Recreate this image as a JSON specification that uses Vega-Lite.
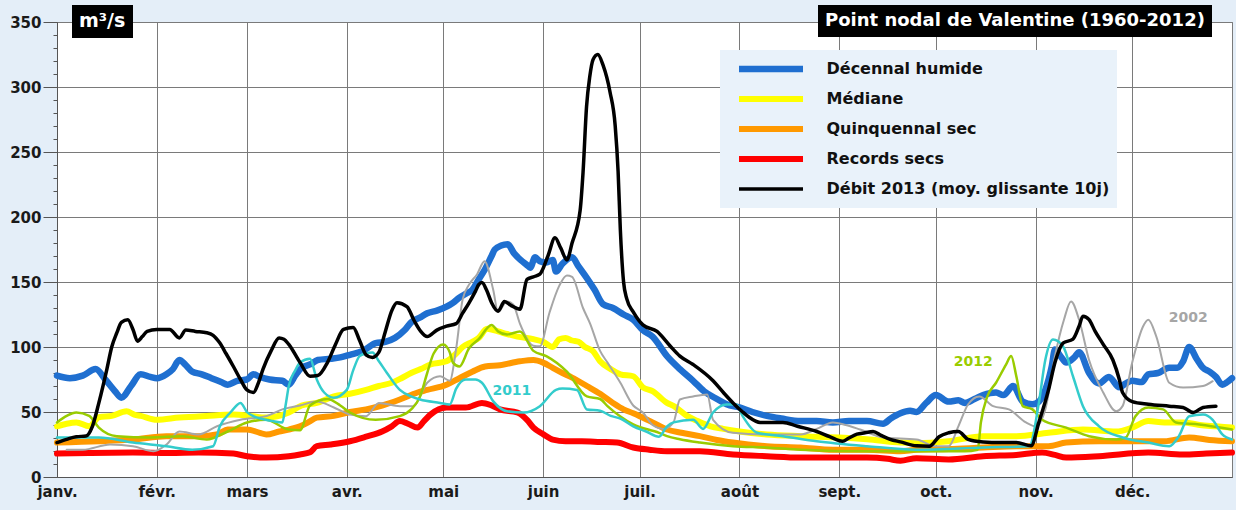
{
  "$schema": "https://vega.github.io/schema/vega-lite/v6.json",
  "width": 1175,
  "height": 455,
  "autosize": {"type": "none"},
  "padding": {"left": 57, "top": 22, "right": 4, "bottom": 33},
  "background": "#e4eef8",
  "config": {
    "view": {"fill": "white", "stroke": "#777777", "strokeWidth": 1},
    "font": "DejaVu Sans"
  },
  "datasets": {
    "flows": [
      {"series":"Records secs","day":0,"flow":18},{"series":"Records secs","day":10,"flow":18.5},{"series":"Records secs","day":23.6,"flow":18.8},{"series":"Records secs","day":35,"flow":18.5},{"series":"Records secs","day":44,"flow":18.8},{"series":"Records secs","day":54.8,"flow":18},{"series":"Records secs","day":59,"flow":16},{"series":"Records secs","day":65,"flow":15},{"series":"Records secs","day":72,"flow":16},{"series":"Records secs","day":75.5,"flow":17.3},{"series":"Records secs","day":78.6,"flow":19},{"series":"Records secs","day":80.7,"flow":23.7},{"series":"Records secs","day":85,"flow":25},{"series":"Records secs","day":91,"flow":27.5},{"series":"Records secs","day":96,"flow":31},{"series":"Records secs","day":101,"flow":35},{"series":"Records secs","day":104,"flow":39},{"series":"Records secs","day":106.5,"flow":43},{"series":"Records secs","day":109,"flow":41},{"series":"Records secs","day":112,"flow":38},{"series":"Records secs","day":114,"flow":43},{"series":"Records secs","day":116,"flow":48},{"series":"Records secs","day":121,"flow":53.5},{"series":"Records secs","day":127,"flow":53.5},{"series":"Records secs","day":132,"flow":57},{"series":"Records secs","day":135,"flow":55},{"series":"Records secs","day":137.6,"flow":52},{"series":"Records secs","day":143,"flow":49.6},{"series":"Records secs","day":146,"flow":44},{"series":"Records secs","day":148,"flow":38},{"series":"Records secs","day":151,"flow":33},{"series":"Records secs","day":154,"flow":28.8},{"series":"Records secs","day":158,"flow":27.5},{"series":"Records secs","day":163,"flow":27.5},{"series":"Records secs","day":168.7,"flow":27},{"series":"Records secs","day":174,"flow":26.5},{"series":"Records secs","day":179,"flow":22.7},{"series":"Records secs","day":184,"flow":21},{"series":"Records secs","day":189.5,"flow":19.8},{"series":"Records secs","day":199.7,"flow":19.8},{"series":"Records secs","day":210,"flow":17.3},{"series":"Records secs","day":220.5,"flow":16},{"series":"Records secs","day":231,"flow":15},{"series":"Records secs","day":251.6,"flow":15},{"series":"Records secs","day":258,"flow":14},{"series":"Records secs","day":262,"flow":12.5},{"series":"Records secs","day":267,"flow":14.5},{"series":"Records secs","day":277,"flow":13.5},{"series":"Records secs","day":287.7,"flow":16},{"series":"Records secs","day":298,"flow":17},{"series":"Records secs","day":306,"flow":18.8},{"series":"Records secs","day":310,"flow":17},{"series":"Records secs","day":313.5,"flow":15},{"series":"Records secs","day":323.7,"flow":16},{"series":"Records secs","day":339,"flow":18.8},{"series":"Records secs","day":349.8,"flow":17.3},{"series":"Records secs","day":357,"flow":18},{"series":"Records secs","day":365,"flow":18.8},
      {"series":"Quinquennal sec","day":0,"flow":26.5},{"series":"Quinquennal sec","day":13,"flow":27.5},{"series":"Quinquennal sec","day":23.6,"flow":28.8},{"series":"Quinquennal sec","day":34,"flow":31.4},{"series":"Quinquennal sec","day":44,"flow":31.4},{"series":"Quinquennal sec","day":50,"flow":33},{"series":"Quinquennal sec","day":53,"flow":36.5},{"series":"Quinquennal sec","day":59,"flow":36.5},{"series":"Quinquennal sec","day":63,"flow":34},{"series":"Quinquennal sec","day":65,"flow":32.7},{"series":"Quinquennal sec","day":69,"flow":35},{"series":"Quinquennal sec","day":72,"flow":36.5},{"series":"Quinquennal sec","day":75.5,"flow":39},{"series":"Quinquennal sec","day":78,"flow":42},{"series":"Quinquennal sec","day":80.7,"flow":45.7},{"series":"Quinquennal sec","day":86,"flow":47},{"series":"Quinquennal sec","day":91,"flow":50},{"series":"Quinquennal sec","day":96,"flow":52},{"series":"Quinquennal sec","day":101,"flow":55},{"series":"Quinquennal sec","day":106.5,"flow":59.6},{"series":"Quinquennal sec","day":112,"flow":65},{"series":"Quinquennal sec","day":115,"flow":67},{"series":"Quinquennal sec","day":121,"flow":71},{"series":"Quinquennal sec","day":125,"flow":76},{"series":"Quinquennal sec","day":129,"flow":81},{"series":"Quinquennal sec","day":133,"flow":85},{"series":"Quinquennal sec","day":137.6,"flow":86},{"series":"Quinquennal sec","day":143.8,"flow":89},{"series":"Quinquennal sec","day":148,"flow":90},{"series":"Quinquennal sec","day":151,"flow":88},{"series":"Quinquennal sec","day":154,"flow":84},{"series":"Quinquennal sec","day":157,"flow":80},{"series":"Quinquennal sec","day":160,"flow":76.5},{"series":"Quinquennal sec","day":164.6,"flow":70},{"series":"Quinquennal sec","day":168.7,"flow":64},{"series":"Quinquennal sec","day":172.7,"flow":57},{"series":"Quinquennal sec","day":176,"flow":52},{"series":"Quinquennal sec","day":179,"flow":49},{"series":"Quinquennal sec","day":181,"flow":46.8},{"series":"Quinquennal sec","day":185,"flow":42},{"series":"Quinquennal sec","day":189.5,"flow":36.5},{"series":"Quinquennal sec","day":194,"flow":34},{"series":"Quinquennal sec","day":199.7,"flow":31.4},{"series":"Quinquennal sec","day":205,"flow":28.5},{"series":"Quinquennal sec","day":210,"flow":26.5},{"series":"Quinquennal sec","day":220.5,"flow":23.7},{"series":"Quinquennal sec","day":231,"flow":22.7},{"series":"Quinquennal sec","day":241,"flow":21},{"series":"Quinquennal sec","day":251.6,"flow":21},{"series":"Quinquennal sec","day":262,"flow":19.8},{"series":"Quinquennal sec","day":267,"flow":21},{"series":"Quinquennal sec","day":277,"flow":21.5},{"series":"Quinquennal sec","day":287.7,"flow":22.7},{"series":"Quinquennal sec","day":298,"flow":23.7},{"series":"Quinquennal sec","day":308,"flow":23.7},{"series":"Quinquennal sec","day":313.5,"flow":26.5},{"series":"Quinquennal sec","day":323.7,"flow":27.5},{"series":"Quinquennal sec","day":334,"flow":27.5},{"series":"Quinquennal sec","day":344,"flow":27.5},{"series":"Quinquennal sec","day":351.7,"flow":30.4},{"series":"Quinquennal sec","day":358,"flow":28.5},{"series":"Quinquennal sec","day":365,"flow":27.5},
      {"series":"Médiane","day":0,"flow":39},{"series":"Médiane","day":3,"flow":41},{"series":"Médiane","day":6,"flow":42},{"series":"Médiane","day":10,"flow":39},{"series":"Médiane","day":13,"flow":46},{"series":"Médiane","day":17,"flow":47},{"series":"Médiane","day":21.6,"flow":50.6},{"series":"Médiane","day":24,"flow":48},{"series":"Médiane","day":26,"flow":47},{"series":"Médiane","day":31,"flow":44},{"series":"Médiane","day":38,"flow":45.7},{"series":"Médiane","day":46.5,"flow":47},{"series":"Médiane","day":54.8,"flow":48},{"series":"Médiane","day":60,"flow":47},{"series":"Médiane","day":65,"flow":45.7},{"series":"Médiane","day":72,"flow":49.6},{"series":"Médiane","day":76,"flow":55},{"series":"Médiane","day":80.7,"flow":57},{"series":"Médiane","day":86,"flow":62},{"series":"Médiane","day":91,"flow":64},{"series":"Médiane","day":96,"flow":67},{"series":"Médiane","day":100,"flow":70},{"series":"Médiane","day":104,"flow":72.5},{"series":"Médiane","day":107,"flow":76},{"series":"Médiane","day":110,"flow":80},{"series":"Médiane","day":113,"flow":83},{"series":"Médiane","day":116,"flow":86.5},{"series":"Médiane","day":121,"flow":89},{"series":"Médiane","day":124,"flow":95},{"series":"Médiane","day":126,"flow":100},{"series":"Médiane","day":129,"flow":104},{"series":"Médiane","day":131,"flow":107},{"series":"Médiane","day":133.6,"flow":114},{"series":"Médiane","day":137,"flow":112},{"series":"Médiane","day":139.8,"flow":110},{"series":"Médiane","day":143,"flow":108},{"series":"Médiane","day":148,"flow":106},{"series":"Médiane","day":151,"flow":104},{"series":"Médiane","day":154,"flow":100},{"series":"Médiane","day":156,"flow":106},{"series":"Médiane","day":158,"flow":107},{"series":"Médiane","day":160,"flow":105},{"series":"Médiane","day":162,"flow":104},{"series":"Médiane","day":164,"flow":100},{"series":"Médiane","day":166.5,"flow":96.8},{"series":"Médiane","day":168.7,"flow":89},{"series":"Médiane","day":172,"flow":83},{"series":"Médiane","day":175,"flow":79},{"series":"Médiane","day":179,"flow":77.5},{"series":"Médiane","day":182,"flow":69},{"series":"Médiane","day":185,"flow":66},{"series":"Médiane","day":189.5,"flow":57},{"series":"Médiane","day":192,"flow":54},{"series":"Médiane","day":195.7,"flow":47},{"series":"Médiane","day":199,"flow":43},{"series":"Médiane","day":203,"flow":39},{"series":"Médiane","day":207,"flow":37},{"series":"Médiane","day":212,"flow":35},{"series":"Médiane","day":220.5,"flow":32.7},{"series":"Médiane","day":231,"flow":31.4},{"series":"Médiane","day":243,"flow":30.4},{"series":"Médiane","day":251.6,"flow":29},{"series":"Médiane","day":262,"flow":26.5},{"series":"Médiane","day":267,"flow":26},{"series":"Médiane","day":277,"flow":27.5},{"series":"Médiane","day":287.7,"flow":31.4},{"series":"Médiane","day":298,"flow":31.4},{"series":"Médiane","day":308,"flow":34},{"series":"Médiane","day":318.7,"flow":36.5},{"series":"Médiane","day":329,"flow":35},{"series":"Médiane","day":334,"flow":38},{"series":"Médiane","day":339,"flow":43},{"series":"Médiane","day":344,"flow":42},{"series":"Médiane","day":349.8,"flow":42},{"series":"Médiane","day":355,"flow":40},{"series":"Médiane","day":360,"flow":39},{"series":"Médiane","day":365,"flow":38},
      {"series":"Décennal humide","day":0,"flow":78},{"series":"Décennal humide","day":4,"flow":76},{"series":"Décennal humide","day":8,"flow":78},{"series":"Décennal humide","day":12,"flow":83},{"series":"Décennal humide","day":15,"flow":75},{"series":"Décennal humide","day":18,"flow":66},{"series":"Décennal humide","day":20,"flow":61},{"series":"Décennal humide","day":23,"flow":70},{"series":"Décennal humide","day":26,"flow":79},{"series":"Décennal humide","day":29,"flow":77},{"series":"Décennal humide","day":31,"flow":76},{"series":"Décennal humide","day":34,"flow":79},{"series":"Décennal humide","day":36,"flow":83},{"series":"Décennal humide","day":38,"flow":90},{"series":"Décennal humide","day":40,"flow":86},{"series":"Décennal humide","day":42,"flow":81},{"series":"Décennal humide","day":45,"flow":79},{"series":"Décennal humide","day":48,"flow":76},{"series":"Décennal humide","day":51,"flow":73},{"series":"Décennal humide","day":53,"flow":71},{"series":"Décennal humide","day":56,"flow":74},{"series":"Décennal humide","day":59,"flow":75},{"series":"Décennal humide","day":61,"flow":79},{"series":"Décennal humide","day":63,"flow":77},{"series":"Décennal humide","day":66,"flow":75},{"series":"Décennal humide","day":70,"flow":74},{"series":"Décennal humide","day":72,"flow":71},{"series":"Décennal humide","day":74,"flow":78},{"series":"Décennal humide","day":76,"flow":84},{"series":"Décennal humide","day":79,"flow":87},{"series":"Décennal humide","day":81,"flow":90},{"series":"Décennal humide","day":85,"flow":91},{"series":"Décennal humide","day":88,"flow":92},{"series":"Décennal humide","day":91,"flow":94},{"series":"Décennal humide","day":95,"flow":97},{"series":"Décennal humide","day":99,"flow":103},{"series":"Décennal humide","day":102,"flow":104},{"series":"Décennal humide","day":105,"flow":107},{"series":"Décennal humide","day":108,"flow":113},{"series":"Décennal humide","day":110,"flow":119},{"series":"Décennal humide","day":113,"flow":123},{"series":"Décennal humide","day":115,"flow":126},{"series":"Décennal humide","day":118,"flow":128},{"series":"Décennal humide","day":121,"flow":131},{"series":"Décennal humide","day":123,"flow":134},{"series":"Décennal humide","day":125,"flow":138},{"series":"Décennal humide","day":127,"flow":141},{"series":"Décennal humide","day":129,"flow":144},{"series":"Décennal humide","day":131,"flow":152},{"series":"Décennal humide","day":133,"flow":160},{"series":"Décennal humide","day":135,"flow":170},{"series":"Décennal humide","day":136,"flow":175},{"series":"Décennal humide","day":138,"flow":178},{"series":"Décennal humide","day":140,"flow":179},{"series":"Décennal humide","day":142,"flow":172},{"series":"Décennal humide","day":144,"flow":167},{"series":"Décennal humide","day":146,"flow":163},{"series":"Décennal humide","day":147,"flow":161},{"series":"Décennal humide","day":148.5,"flow":169},{"series":"Décennal humide","day":150,"flow":166},{"series":"Décennal humide","day":152,"flow":165},{"series":"Décennal humide","day":154,"flow":167},{"series":"Décennal humide","day":155,"flow":158},{"series":"Décennal humide","day":157,"flow":164},{"series":"Décennal humide","day":160,"flow":169},{"series":"Décennal humide","day":162,"flow":162},{"series":"Décennal humide","day":164.6,"flow":153},{"series":"Décennal humide","day":167,"flow":144},{"series":"Décennal humide","day":169.6,"flow":133},{"series":"Décennal humide","day":172.7,"flow":130},{"series":"Décennal humide","day":176,"flow":125},{"series":"Décennal humide","day":179,"flow":121},{"series":"Décennal humide","day":182,"flow":113},{"series":"Décennal humide","day":185,"flow":108},{"series":"Décennal humide","day":189.5,"flow":93},{"series":"Décennal humide","day":193.5,"flow":83},{"series":"Décennal humide","day":197.6,"flow":74},{"series":"Décennal humide","day":201,"flow":66},{"series":"Décennal humide","day":205,"flow":60},{"series":"Décennal humide","day":208,"flow":56},{"series":"Décennal humide","day":212,"flow":53.5},{"series":"Décennal humide","day":216,"flow":50},{"series":"Décennal humide","day":220.5,"flow":47},{"series":"Décennal humide","day":225,"flow":45},{"series":"Décennal humide","day":231,"flow":43},{"series":"Décennal humide","day":236,"flow":43},{"series":"Décennal humide","day":241,"flow":42},{"series":"Décennal humide","day":246,"flow":43},{"series":"Décennal humide","day":251.6,"flow":43},{"series":"Décennal humide","day":256.6,"flow":41},{"series":"Décennal humide","day":259,"flow":45},{"series":"Décennal humide","day":262,"flow":49},{"series":"Décennal humide","day":265,"flow":51},{"series":"Décennal humide","day":267,"flow":50},{"series":"Décennal humide","day":270,"flow":57},{"series":"Décennal humide","day":273,"flow":63},{"series":"Décennal humide","day":277,"flow":58},{"series":"Décennal humide","day":280,"flow":59},{"series":"Décennal humide","day":282,"flow":57},{"series":"Décennal humide","day":285,"flow":60},{"series":"Décennal humide","day":287.7,"flow":63},{"series":"Décennal humide","day":291.7,"flow":65},{"series":"Décennal humide","day":294,"flow":63},{"series":"Décennal humide","day":297,"flow":70},{"series":"Décennal humide","day":300,"flow":58},{"series":"Décennal humide","day":303,"flow":56},{"series":"Décennal humide","day":305,"flow":58},{"series":"Décennal humide","day":307,"flow":67},{"series":"Décennal humide","day":309,"flow":85},{"series":"Décennal humide","day":310,"flow":98},{"series":"Décennal humide","day":312,"flow":92},{"series":"Décennal humide","day":313.5,"flow":88},{"series":"Décennal humide","day":316,"flow":92},{"series":"Décennal humide","day":317.5,"flow":96},{"series":"Décennal humide","day":320.6,"flow":80},{"series":"Décennal humide","day":323.7,"flow":72},{"series":"Décennal humide","day":326.8,"flow":77},{"series":"Décennal humide","day":330,"flow":69},{"series":"Décennal humide","day":332,"flow":72},{"series":"Décennal humide","day":334,"flow":74},{"series":"Décennal humide","day":337,"flow":73},{"series":"Décennal humide","day":339,"flow":79},{"series":"Décennal humide","day":342,"flow":80},{"series":"Décennal humide","day":345.5,"flow":84},{"series":"Décennal humide","day":348,"flow":84},{"series":"Décennal humide","day":349.8,"flow":89},{"series":"Décennal humide","day":351.7,"flow":100},{"series":"Décennal humide","day":354,"flow":91},{"series":"Décennal humide","day":356,"flow":84},{"series":"Décennal humide","day":358,"flow":81},{"series":"Décennal humide","day":360,"flow":77},{"series":"Décennal humide","day":362,"flow":71},{"series":"Décennal humide","day":363.5,"flow":73},{"series":"Décennal humide","day":365,"flow":76},
      {"series":"2002","day":3,"flow":21},{"series":"2002","day":8,"flow":21},{"series":"2002","day":16.5,"flow":25},{"series":"2002","day":23.6,"flow":23.7},{"series":"2002","day":30,"flow":19.8},{"series":"2002","day":34,"flow":25},{"series":"2002","day":38,"flow":35},{"series":"2002","day":44,"flow":32.7},{"series":"2002","day":49.7,"flow":39},{"series":"2002","day":57,"flow":44},{"series":"2002","day":65,"flow":46.8},{"series":"2002","day":70,"flow":52},{"series":"2002","day":75.5,"flow":55},{"series":"2002","day":80.7,"flow":58},{"series":"2002","day":86,"flow":53.5},{"series":"2002","day":91,"flow":48},{"series":"2002","day":96,"flow":46.8},{"series":"2002","day":100,"flow":57},{"series":"2002","day":106.5,"flow":54.5},{"series":"2002","day":110.6,"flow":54.5},{"series":"2002","day":115,"flow":72.5},{"series":"2002","day":119,"flow":77.5},{"series":"2002","day":122,"flow":74},{"series":"2002","day":124,"flow":99},{"series":"2002","day":126,"flow":136.5},{"series":"2002","day":128,"flow":148},{"series":"2002","day":130.5,"flow":156},{"series":"2002","day":132.8,"flow":166},{"series":"2002","day":135.5,"flow":144},{"series":"2002","day":137,"flow":127},{"series":"2002","day":139.7,"flow":135},{"series":"2002","day":141.7,"flow":132.7},{"series":"2002","day":143.8,"flow":118},{"series":"2002","day":148,"flow":101},{"series":"2002","day":150,"flow":100.6},{"series":"2002","day":153,"flow":126.5},{"series":"2002","day":156,"flow":147},{"series":"2002","day":158.4,"flow":155},{"series":"2002","day":160,"flow":154},{"series":"2002","day":163.4,"flow":130},{"series":"2002","day":165.6,"flow":118},{"series":"2002","day":168.7,"flow":97},{"series":"2002","day":171,"flow":88},{"series":"2002","day":175,"flow":72.5},{"series":"2002","day":179,"flow":55},{"series":"2002","day":182,"flow":49.6},{"series":"2002","day":185,"flow":40},{"series":"2002","day":188.4,"flow":37},{"series":"2002","day":191.5,"flow":42},{"series":"2002","day":193.5,"flow":59.6},{"series":"2002","day":197.6,"flow":62},{"series":"2002","day":202,"flow":63.5},{"series":"2002","day":203.8,"flow":44},{"series":"2002","day":210,"flow":34},{"series":"2002","day":220.5,"flow":32.7},{"series":"2002","day":231,"flow":32.7},{"series":"2002","day":236,"flow":37},{"series":"2002","day":241,"flow":42},{"series":"2002","day":245,"flow":40},{"series":"2002","day":249.5,"flow":36.5},{"series":"2002","day":256.6,"flow":30.4},{"series":"2002","day":267,"flow":28.8},{"series":"2002","day":273,"flow":23.7},{"series":"2002","day":277,"flow":23.7},{"series":"2002","day":280,"flow":39},{"series":"2002","day":283,"flow":55.8},{"series":"2002","day":286.5,"flow":62},{"series":"2002","day":290.8,"flow":54.5},{"series":"2002","day":295.7,"flow":52},{"series":"2002","day":301,"flow":42},{"series":"2002","day":304,"flow":39},{"series":"2002","day":307,"flow":52},{"series":"2002","day":310,"flow":93},{"series":"2002","day":312.8,"flow":121},{"series":"2002","day":315,"flow":135},{"series":"2002","day":317.5,"flow":121},{"series":"2002","day":320.6,"flow":90},{"series":"2002","day":325,"flow":65},{"series":"2002","day":329,"flow":50.6},{"series":"2002","day":331,"flow":54.5},{"series":"2002","day":334,"flow":88},{"series":"2002","day":337.4,"flow":116},{"series":"2002","day":339,"flow":121},{"series":"2002","day":341.5,"flow":108},{"series":"2002","day":345.5,"flow":72.5},{"series":"2002","day":349.8,"flow":68.8},{"series":"2002","day":356,"flow":70},{"series":"2002","day":359,"flow":73.7},
      {"series":"2012","day":0,"flow":42},{"series":"2012","day":3,"flow":47},{"series":"2012","day":6,"flow":49.6},{"series":"2012","day":10,"flow":47},{"series":"2012","day":13,"flow":38},{"series":"2012","day":18.6,"flow":31.4},{"series":"2012","day":29,"flow":30.4},{"series":"2012","day":39,"flow":31.4},{"series":"2012","day":46.5,"flow":28.8},{"series":"2012","day":53,"flow":35},{"series":"2012","day":59,"flow":41.9},{"series":"2012","day":65,"flow":44},{"series":"2012","day":72,"flow":36.5},{"series":"2012","day":75.5,"flow":36},{"series":"2012","day":78.6,"flow":55},{"series":"2012","day":84,"flow":60},{"series":"2012","day":88,"flow":55},{"series":"2012","day":91,"flow":49.6},{"series":"2012","day":99,"flow":44},{"series":"2012","day":106.5,"flow":46.8},{"series":"2012","day":110,"flow":52},{"series":"2012","day":112.8,"flow":62},{"series":"2012","day":115,"flow":80},{"series":"2012","day":117,"flow":95},{"series":"2012","day":120,"flow":102},{"series":"2012","day":122,"flow":96},{"series":"2012","day":123,"flow":88},{"series":"2012","day":125,"flow":85},{"series":"2012","day":128,"flow":99},{"series":"2012","day":131,"flow":106},{"series":"2012","day":135,"flow":117},{"series":"2012","day":137,"flow":112},{"series":"2012","day":139.8,"flow":109.6},{"series":"2012","day":143.8,"flow":112},{"series":"2012","day":148,"flow":97},{"series":"2012","day":152,"flow":93},{"series":"2012","day":158.4,"flow":81},{"series":"2012","day":164.6,"flow":62},{"series":"2012","day":168.7,"flow":60},{"series":"2012","day":171,"flow":54.5},{"series":"2012","day":179,"flow":40.5},{"series":"2012","day":187,"flow":34},{"series":"2012","day":189.5,"flow":31.4},{"series":"2012","day":193.5,"flow":29},{"series":"2012","day":199.7,"flow":26.5},{"series":"2012","day":210,"flow":23.7},{"series":"2012","day":220.5,"flow":22.7},{"series":"2012","day":231,"flow":21},{"series":"2012","day":251.6,"flow":19.8},{"series":"2012","day":267,"flow":19.8},{"series":"2012","day":282,"flow":19.8},{"series":"2012","day":286,"flow":21},{"series":"2012","day":287,"flow":42},{"series":"2012","day":289,"flow":62},{"series":"2012","day":291.7,"flow":72.5},{"series":"2012","day":294.8,"flow":86.5},{"series":"2012","day":296.4,"flow":93},{"series":"2012","day":298,"flow":77.5},{"series":"2012","day":300,"flow":54.5},{"series":"2012","day":303,"flow":52},{"series":"2012","day":306,"flow":44},{"series":"2012","day":313.5,"flow":38},{"series":"2012","day":320.6,"flow":31.4},{"series":"2012","day":329,"flow":28.8},{"series":"2012","day":332,"flow":30.4},{"series":"2012","day":335,"flow":46.8},{"series":"2012","day":339,"flow":53.5},{"series":"2012","day":343.6,"flow":52},{"series":"2012","day":347.6,"flow":42},{"series":"2012","day":354.8,"flow":40.4},{"series":"2012","day":365,"flow":36.5},
      {"series":"2011","day":0,"flow":30.4},{"series":"2011","day":13,"flow":30.4},{"series":"2011","day":23.6,"flow":26.5},{"series":"2011","day":34,"flow":23.7},{"series":"2011","day":42,"flow":21},{"series":"2011","day":48.5,"flow":23.7},{"series":"2011","day":50.6,"flow":39},{"series":"2011","day":54,"flow":50},{"series":"2011","day":57,"flow":57},{"series":"2011","day":59,"flow":50},{"series":"2011","day":61,"flow":46.8},{"series":"2011","day":67,"flow":43},{"series":"2011","day":70,"flow":41.9},{"series":"2011","day":71,"flow":55},{"series":"2011","day":72,"flow":70},{"series":"2011","day":74,"flow":82},{"series":"2011","day":75.5,"flow":88},{"series":"2011","day":78.6,"flow":91},{"series":"2011","day":80.7,"flow":75},{"series":"2011","day":83,"flow":65},{"series":"2011","day":86,"flow":61},{"series":"2011","day":90,"flow":67},{"series":"2011","day":92,"flow":82},{"series":"2011","day":94,"flow":93},{"series":"2011","day":96,"flow":95},{"series":"2011","day":98,"flow":95.7},{"series":"2011","day":100,"flow":89},{"series":"2011","day":102.5,"flow":80},{"series":"2011","day":106.5,"flow":67},{"series":"2011","day":110,"flow":62},{"series":"2011","day":112.8,"flow":59.6},{"series":"2011","day":119,"flow":57},{"series":"2011","day":122,"flow":55.8},{"series":"2011","day":124,"flow":68},{"series":"2011","day":127,"flow":75},{"series":"2011","day":130,"flow":75},{"series":"2011","day":132,"flow":72.5},{"series":"2011","day":135.6,"flow":58},{"series":"2011","day":139.8,"flow":50.6},{"series":"2011","day":145,"flow":49.6},{"series":"2011","day":150,"flow":54.5},{"series":"2011","day":155,"flow":67},{"series":"2011","day":157,"flow":68},{"series":"2011","day":161.5,"flow":67},{"series":"2011","day":164.6,"flow":52},{"series":"2011","day":168.7,"flow":51},{"series":"2011","day":172,"flow":47},{"series":"2011","day":175,"flow":45},{"series":"2011","day":179,"flow":39},{"series":"2011","day":183,"flow":35},{"series":"2011","day":187,"flow":31},{"series":"2011","day":189.5,"flow":39},{"series":"2011","day":191.5,"flow":42},{"series":"2011","day":197.6,"flow":44},{"series":"2011","day":200.7,"flow":37},{"series":"2011","day":203.8,"flow":49.6},{"series":"2011","day":208,"flow":55.8},{"series":"2011","day":211,"flow":55.8},{"series":"2011","day":213,"flow":46.8},{"series":"2011","day":217.5,"flow":34},{"series":"2011","day":225.5,"flow":31.4},{"series":"2011","day":236,"flow":27.5},{"series":"2011","day":251.6,"flow":23.7},{"series":"2011","day":267,"flow":21},{"series":"2011","day":287.7,"flow":22.7},{"series":"2011","day":302,"flow":23.7},{"series":"2011","day":305,"flow":57},{"series":"2011","day":307,"flow":90},{"series":"2011","day":309.4,"flow":105.8},{"series":"2011","day":312.5,"flow":100.6},{"series":"2011","day":315.6,"flow":77.5},{"series":"2011","day":318.7,"flow":54.5},{"series":"2011","day":323.7,"flow":39},{"series":"2011","day":331,"flow":30.4},{"series":"2011","day":339,"flow":26.5},{"series":"2011","day":345.5,"flow":23.7},{"series":"2011","day":348.5,"flow":31.4},{"series":"2011","day":351.7,"flow":46.8},{"series":"2011","day":356,"flow":48},{"series":"2011","day":359,"flow":44},{"series":"2011","day":362,"flow":32.7},{"series":"2011","day":365,"flow":28.8},
      {"series":"Débit 2013 (moy. glissante 10j)","day":0,"flow":26.5},{"series":"Débit 2013 (moy. glissante 10j)","day":3,"flow":29},{"series":"Débit 2013 (moy. glissante 10j)","day":6,"flow":31},{"series":"Débit 2013 (moy. glissante 10j)","day":9,"flow":31.5},{"series":"Débit 2013 (moy. glissante 10j)","day":11,"flow":39},{"series":"Débit 2013 (moy. glissante 10j)","day":13,"flow":57},{"series":"Débit 2013 (moy. glissante 10j)","day":15.5,"flow":83},{"series":"Débit 2013 (moy. glissante 10j)","day":17,"flow":100},{"series":"Débit 2013 (moy. glissante 10j)","day":18.6,"flow":111},{"series":"Débit 2013 (moy. glissante 10j)","day":20,"flow":119},{"series":"Débit 2013 (moy. glissante 10j)","day":22,"flow":121},{"series":"Débit 2013 (moy. glissante 10j)","day":23.6,"flow":113.5},{"series":"Débit 2013 (moy. glissante 10j)","day":25,"flow":104.5},{"series":"Débit 2013 (moy. glissante 10j)","day":26.5,"flow":108},{"series":"Débit 2013 (moy. glissante 10j)","day":28,"flow":112},{"series":"Débit 2013 (moy. glissante 10j)","day":31,"flow":113.5},{"series":"Débit 2013 (moy. glissante 10j)","day":35,"flow":113.5},{"series":"Débit 2013 (moy. glissante 10j)","day":38,"flow":107},{"series":"Débit 2013 (moy. glissante 10j)","day":40,"flow":113},{"series":"Débit 2013 (moy. glissante 10j)","day":43,"flow":112},{"series":"Débit 2013 (moy. glissante 10j)","day":46.5,"flow":111},{"series":"Débit 2013 (moy. glissante 10j)","day":48.5,"flow":109},{"series":"Débit 2013 (moy. glissante 10j)","day":50.6,"flow":103},{"series":"Débit 2013 (moy. glissante 10j)","day":52.5,"flow":95},{"series":"Débit 2013 (moy. glissante 10j)","day":54.8,"flow":85},{"series":"Débit 2013 (moy. glissante 10j)","day":57,"flow":75},{"series":"Débit 2013 (moy. glissante 10j)","day":59,"flow":67},{"series":"Débit 2013 (moy. glissante 10j)","day":61,"flow":65},{"series":"Débit 2013 (moy. glissante 10j)","day":62.5,"flow":72},{"series":"Débit 2013 (moy. glissante 10j)","day":64,"flow":83},{"series":"Débit 2013 (moy. glissante 10j)","day":66.5,"flow":97},{"series":"Débit 2013 (moy. glissante 10j)","day":69,"flow":107},{"series":"Débit 2013 (moy. glissante 10j)","day":70.5,"flow":106},{"series":"Débit 2013 (moy. glissante 10j)","day":72,"flow":102},{"series":"Débit 2013 (moy. glissante 10j)","day":75.5,"flow":88},{"series":"Débit 2013 (moy. glissante 10j)","day":78.6,"flow":77.5},{"series":"Débit 2013 (moy. glissante 10j)","day":81,"flow":78},{"series":"Débit 2013 (moy. glissante 10j)","day":84,"flow":88},{"series":"Débit 2013 (moy. glissante 10j)","day":86.5,"flow":102},{"series":"Débit 2013 (moy. glissante 10j)","day":89,"flow":113.5},{"series":"Débit 2013 (moy. glissante 10j)","day":92,"flow":115},{"series":"Débit 2013 (moy. glissante 10j)","day":94,"flow":105},{"series":"Débit 2013 (moy. glissante 10j)","day":96,"flow":94},{"series":"Débit 2013 (moy. glissante 10j)","day":98,"flow":92},{"series":"Débit 2013 (moy. glissante 10j)","day":100,"flow":96},{"series":"Débit 2013 (moy. glissante 10j)","day":102,"flow":112},{"series":"Débit 2013 (moy. glissante 10j)","day":104,"flow":128},{"series":"Débit 2013 (moy. glissante 10j)","day":105.6,"flow":134},{"series":"Débit 2013 (moy. glissante 10j)","day":108.7,"flow":131},{"series":"Débit 2013 (moy. glissante 10j)","day":111,"flow":120},{"series":"Débit 2013 (moy. glissante 10j)","day":113,"flow":112},{"series":"Débit 2013 (moy. glissante 10j)","day":115,"flow":108},{"series":"Débit 2013 (moy. glissante 10j)","day":118,"flow":113},{"series":"Débit 2013 (moy. glissante 10j)","day":121,"flow":116},{"series":"Débit 2013 (moy. glissante 10j)","day":124,"flow":118},{"series":"Débit 2013 (moy. glissante 10j)","day":126,"flow":126},{"series":"Débit 2013 (moy. glissante 10j)","day":128,"flow":134},{"series":"Débit 2013 (moy. glissante 10j)","day":130,"flow":143},{"series":"Débit 2013 (moy. glissante 10j)","day":131,"flow":148},{"series":"Débit 2013 (moy. glissante 10j)","day":132,"flow":149.6},{"series":"Débit 2013 (moy. glissante 10j)","day":133.4,"flow":144},{"series":"Débit 2013 (moy. glissante 10j)","day":135,"flow":134},{"series":"Débit 2013 (moy. glissante 10j)","day":137,"flow":127.5},{"series":"Débit 2013 (moy. glissante 10j)","day":139,"flow":135},{"series":"Débit 2013 (moy. glissante 10j)","day":141,"flow":132},{"series":"Débit 2013 (moy. glissante 10j)","day":143.8,"flow":129},{"series":"Débit 2013 (moy. glissante 10j)","day":146,"flow":152},{"series":"Débit 2013 (moy. glissante 10j)","day":148,"flow":154},{"series":"Débit 2013 (moy. glissante 10j)","day":150,"flow":156},{"series":"Débit 2013 (moy. glissante 10j)","day":152.5,"flow":170},{"series":"Débit 2013 (moy. glissante 10j)","day":154.7,"flow":184},{"series":"Débit 2013 (moy. glissante 10j)","day":156.5,"flow":176},{"series":"Débit 2013 (moy. glissante 10j)","day":158.4,"flow":167},{"series":"Débit 2013 (moy. glissante 10j)","day":160,"flow":180},{"series":"Débit 2013 (moy. glissante 10j)","day":162.5,"flow":205},{"series":"Débit 2013 (moy. glissante 10j)","day":163.4,"flow":234},{"series":"Débit 2013 (moy. glissante 10j)","day":164.5,"flow":285},{"series":"Débit 2013 (moy. glissante 10j)","day":165.5,"flow":308},{"series":"Débit 2013 (moy. glissante 10j)","day":166.5,"flow":321},{"series":"Débit 2013 (moy. glissante 10j)","day":168,"flow":325},{"series":"Débit 2013 (moy. glissante 10j)","day":169.6,"flow":317},{"series":"Débit 2013 (moy. glissante 10j)","day":171.8,"flow":296},{"series":"Débit 2013 (moy. glissante 10j)","day":173.4,"flow":270},{"series":"Débit 2013 (moy. glissante 10j)","day":174.3,"flow":235},{"series":"Débit 2013 (moy. glissante 10j)","day":175,"flow":190},{"series":"Débit 2013 (moy. glissante 10j)","day":176,"flow":150},{"series":"Débit 2013 (moy. glissante 10j)","day":177,"flow":137},{"series":"Débit 2013 (moy. glissante 10j)","day":179,"flow":127},{"series":"Débit 2013 (moy. glissante 10j)","day":182,"flow":117},{"series":"Débit 2013 (moy. glissante 10j)","day":186.4,"flow":112},{"series":"Débit 2013 (moy. glissante 10j)","day":190.4,"flow":101},{"series":"Débit 2013 (moy. glissante 10j)","day":193.5,"flow":93},{"series":"Débit 2013 (moy. glissante 10j)","day":197.6,"flow":86.5},{"series":"Débit 2013 (moy. glissante 10j)","day":203.8,"flow":74},{"series":"Débit 2013 (moy. glissante 10j)","day":207,"flow":65},{"series":"Débit 2013 (moy. glissante 10j)","day":210,"flow":57},{"series":"Débit 2013 (moy. glissante 10j)","day":213,"flow":50},{"series":"Débit 2013 (moy. glissante 10j)","day":215,"flow":46},{"series":"Débit 2013 (moy. glissante 10j)","day":218.4,"flow":42},{"series":"Débit 2013 (moy. glissante 10j)","day":222,"flow":42},{"series":"Débit 2013 (moy. glissante 10j)","day":225.5,"flow":42},{"series":"Débit 2013 (moy. glissante 10j)","day":230,"flow":39},{"series":"Débit 2013 (moy. glissante 10j)","day":236,"flow":35},{"series":"Débit 2013 (moy. glissante 10j)","day":240,"flow":31},{"series":"Débit 2013 (moy. glissante 10j)","day":244,"flow":27.5},{"series":"Débit 2013 (moy. glissante 10j)","day":246,"flow":30},{"series":"Débit 2013 (moy. glissante 10j)","day":248.5,"flow":33},{"series":"Débit 2013 (moy. glissante 10j)","day":251,"flow":34},{"series":"Débit 2013 (moy. glissante 10j)","day":253.5,"flow":35},{"series":"Débit 2013 (moy. glissante 10j)","day":256,"flow":32},{"series":"Débit 2013 (moy. glissante 10j)","day":258.8,"flow":29},{"series":"Débit 2013 (moy. glissante 10j)","day":262,"flow":27},{"series":"Débit 2013 (moy. glissante 10j)","day":267,"flow":24},{"series":"Débit 2013 (moy. glissante 10j)","day":271,"flow":23.7},{"series":"Débit 2013 (moy. glissante 10j)","day":274,"flow":31},{"series":"Débit 2013 (moy. glissante 10j)","day":277,"flow":34},{"series":"Débit 2013 (moy. glissante 10j)","day":280,"flow":35},{"series":"Débit 2013 (moy. glissante 10j)","day":283,"flow":29},{"series":"Débit 2013 (moy. glissante 10j)","day":287.7,"flow":27},{"series":"Débit 2013 (moy. glissante 10j)","day":293,"flow":26.5},{"series":"Débit 2013 (moy. glissante 10j)","day":298,"flow":26.5},{"series":"Débit 2013 (moy. glissante 10j)","day":302.6,"flow":24},{"series":"Débit 2013 (moy. glissante 10j)","day":305,"flow":42},{"series":"Débit 2013 (moy. glissante 10j)","day":308,"flow":67},{"series":"Débit 2013 (moy. glissante 10j)","day":310,"flow":88},{"series":"Débit 2013 (moy. glissante 10j)","day":312.5,"flow":103},{"series":"Débit 2013 (moy. glissante 10j)","day":315.6,"flow":106},{"series":"Débit 2013 (moy. glissante 10j)","day":317.5,"flow":116},{"series":"Débit 2013 (moy. glissante 10j)","day":318.7,"flow":123.7},{"series":"Débit 2013 (moy. glissante 10j)","day":320.6,"flow":121},{"series":"Débit 2013 (moy. glissante 10j)","day":322.5,"flow":112},{"series":"Débit 2013 (moy. glissante 10j)","day":325,"flow":102},{"series":"Débit 2013 (moy. glissante 10j)","day":328,"flow":90},{"series":"Débit 2013 (moy. glissante 10j)","day":330,"flow":75},{"series":"Débit 2013 (moy. glissante 10j)","day":331,"flow":65},{"series":"Débit 2013 (moy. glissante 10j)","day":334,"flow":58},{"series":"Débit 2013 (moy. glissante 10j)","day":339,"flow":56},{"series":"Débit 2013 (moy. glissante 10j)","day":345.5,"flow":54.5},{"series":"Débit 2013 (moy. glissante 10j)","day":349.8,"flow":53.5},{"series":"Débit 2013 (moy. glissante 10j)","day":353,"flow":49.6},{"series":"Débit 2013 (moy. glissante 10j)","day":356,"flow":53.5},{"series":"Débit 2013 (moy. glissante 10j)","day":360,"flow":54.5}
    ],
    "labels": [
      {"series":"2011","day":141.3,"flow":66,"label":"2011"},
      {"series":"2012","day":284.6,"flow":88.5,"label":"2012"},
      {"series":"2002","day":351.4,"flow":122,"label":"2002"}
    ]
  },
  "layer": [
    {
      "data": {"name": "flows"},
      "mark": {"type": "line", "interpolate": "monotone", "strokeJoin": "round", "strokeCap": "round"},
      "encoding": {
        "x": {
          "field": "day", "type": "quantitative",
          "scale": {"domain": [0, 365], "nice": false, "zero": false},
          "axis": {
            "title": null,
            "values": [0, 31, 59, 90, 120, 151, 181, 212, 243, 273, 304, 334, 365],
            "tickCount": 100,
            "labelExpr": "['janv.','févr.','mars','avr.','mai','juin','juil.','août','sept.','oct.','nov.','déc.',''][indexof([0,31,59,90,120,151,181,212,243,273,304,334,365], datum.value)]",
            "grid": true, "gridColor": "#7a7a7a", "gridWidth": 1,
            "ticks": false, "labelPadding": 7,
            "labelFont": "DejaVu Sans", "labelFontSize": 15, "labelFontWeight": "bold", "labelColor": "#1a1a1a",
            "labelFlush": false, "labelOverlap": false, "labelBound": false,
            "domainColor": "#555555"
          }
        },
        "y": {
          "field": "flow", "type": "quantitative",
          "scale": {"domain": [0, 350], "nice": false},
          "axis": {
            "title": null,
            "values": [0,10,20,30,40,50,60,70,80,90,100,110,120,130,140,150,160,170,180,190,200,210,220,230,240,250,260,270,280,290,300,310,320,330,340,350],
            "tickCount": 100,
            "labelExpr": "datum.value % 50 === 0 ? datum.label : ''",
            "grid": true, "gridColor": "#7a7a7a",
            "gridOpacity": {"condition": {"test": "datum.value % 50 === 0", "value": 1}, "value": 0},
            "tickSize": {"condition": {"test": "datum.value % 50 === 0", "value": 14}, "value": 4},
            "tickColor": "#555555",
            "labelPadding": 2,
            "labelFont": "DejaVu Sans", "labelFontSize": 15, "labelFontWeight": "bold", "labelColor": "#1a1a1a",
            "labelOverlap": false, "labelFlush": false,
            "domainColor": "#555555"
          }
        },
        "color": {
          "field": "series", "type": "nominal",
          "scale": {
            "domain": ["Records secs", "Quinquennal sec", "Médiane", "Décennal humide", "2002", "2012", "2011", "Débit 2013 (moy. glissante 10j)"],
            "range": ["#ff0000", "#ff9900", "#ffff00", "#1f6fd0", "#a6a6a6", "#99cc00", "#33cccc", "#000000"]
          },
          "legend": {
            "values": ["Décennal humide", "Médiane", "Quinquennal sec", "Records secs", "Débit 2013 (moy. glissante 10j)"],
            "title": null,
            "orient": "none", "legendX": 663, "legendY": 28,
            "fillColor": "#e9f2fa", "strokeColor": null,
            "padding": 7,
            "symbolType": "stroke", "symbolSize": 4096, "symbolStrokeWidth": 5, "symbolOffset": 8.5,
            "clipHeight": 24, "rowPadding": 6,
            "labelOffset": 20, "labelLimit": 400,
            "labelFont": "DejaVu Sans", "labelFontSize": 16, "labelFontWeight": "bold", "labelColor": "#111111"
          }
        },
        "strokeWidth": {
          "field": "series", "type": "nominal",
          "scale": {
            "type": "ordinal",
            "domain": ["Records secs", "Quinquennal sec", "Médiane", "Décennal humide", "2002", "2012", "2011", "Débit 2013 (moy. glissante 10j)"],
            "range": [6, 6, 6, 6.5, 2, 2.5, 2.5, 3.5]
          },
          "legend": null
        }
      }
    },
    {
      "data": {"name": "labels"},
      "mark": {"type": "text", "font": "DejaVu Sans", "fontWeight": "bold", "align": "center", "baseline": "middle"},
      "encoding": {
        "x": {"field": "day", "type": "quantitative"},
        "y": {"field": "flow", "type": "quantitative"},
        "text": {"field": "label"},
        "color": {"field": "series", "type": "nominal"},
        "size": {
          "datum": "title", "type": "ordinal",
          "scale": {"type": "ordinal", "range": [14]},
          "legend": {
            "title": "Point nodal de Valentine (1960-2012)",
            "values": [],
            "orient": "none", "legendX": 761, "legendY": -17,
            "fillColor": "#000000", "strokeColor": null, "padding": 7,
            "titleColor": "#ffffff", "titleFont": "DejaVu Sans", "titleFontSize": 18, "titleFontWeight": "bold",
            "titlePadding": 0, "titleLimit": 1000
          }
        },
        "opacity": {
          "datum": "unit", "type": "ordinal",
          "scale": {"type": "ordinal", "range": [1]},
          "legend": {
            "title": "m³/s",
            "values": [],
            "orient": "none", "legendX": 15, "legendY": -17,
            "fillColor": "#000000", "strokeColor": null, "padding": 7,
            "titleColor": "#ffffff", "titleFont": "DejaVu Sans", "titleFontSize": 19, "titleFontWeight": "bold",
            "titlePadding": 0, "titleLimit": 1000
          }
        }
      }
    }
  ]
}
